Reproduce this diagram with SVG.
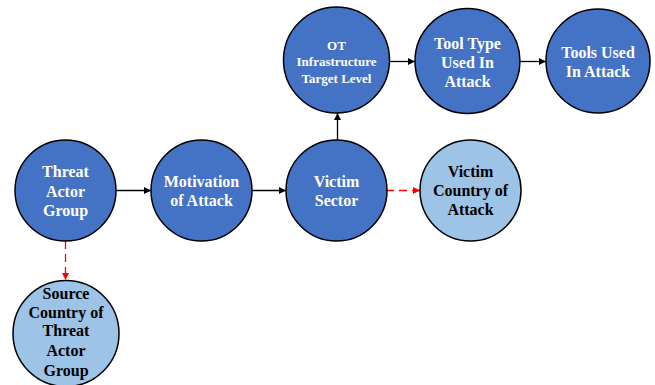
<svg xmlns="http://www.w3.org/2000/svg" width="655" height="385" viewBox="0 0 655 385">
<style>
.n circle{stroke:#000;stroke-width:1.5}
.d circle{fill:#4472C4}
.l circle{fill:#9DC3E6}
text{font-family:"Liberation Serif","Times New Roman",serif;font-weight:bold;font-size:16px;text-anchor:middle}
.d text{fill:#fff}
.l text{fill:#000}
.s text{font-size:13px}
.e{stroke:#000;stroke-width:1.3;fill:none}
.r{stroke:#f00;stroke-width:1.3;fill:none;stroke-dasharray:8,5}
</style>
<defs>
<marker id="ab" markerWidth="8" markerHeight="8" refX="7" refY="4" orient="auto" markerUnits="userSpaceOnUse"><path d="M0,0.5 L7,4 L0,7.5 Z" fill="#000"/></marker>
<marker id="ar" markerWidth="8" markerHeight="8" refX="7" refY="4" orient="auto" markerUnits="userSpaceOnUse"><path d="M0,0.5 L7,4 L0,7.5 Z" fill="#f00"/></marker>
</defs>
<rect width="655" height="385" fill="#fff"/>
<g id="connectors">
<line class="e" x1="116" y1="190.5" x2="151" y2="190.5" marker-end="url(#ab)"/>
<line class="e" x1="252" y1="190.5" x2="286" y2="190.5" marker-end="url(#ab)"/>
<line class="e" x1="337.5" y1="140" x2="337.5" y2="113" marker-end="url(#ab)"/>
<line class="e" x1="389" y1="61.5" x2="415" y2="61.5" marker-end="url(#ab)"/>
<line class="e" x1="520" y1="61.5" x2="546" y2="61.5" marker-end="url(#ab)"/>
<line class="r" x1="386" y1="190.5" x2="420" y2="190.5" marker-end="url(#ar)"/>
<line class="r" x1="65.5" y1="241" x2="65.5" y2="280" marker-end="url(#ar)"/>
</g>
<g id="threat" class="n d"><circle cx="65.5" cy="190.5" r="50.5"/><text x="65.5" y="177">Threat</text><text x="65.5" y="196.5">Actor</text><text x="65.5" y="215.5">Group</text></g>
<g id="motivation" class="n d"><circle cx="201.5" cy="190.5" r="50.5"/><text x="201.5" y="187">Motivation</text><text x="201.5" y="206">of Attack</text></g>
<g id="sector" class="n d"><circle cx="336.5" cy="190.5" r="50.5"/><text x="336.5" y="187">Victim</text><text x="336.5" y="206">Sector</text></g>
<g id="country" class="n l"><circle cx="470.5" cy="190.5" r="50.5"/><text x="470.5" y="177">Victim</text><text x="470.5" y="196">Country of</text><text x="470.5" y="215">Attack</text></g>
<g id="ot" class="n d s"><circle cx="336.5" cy="60" r="53"/><text x="336.5" y="49.5">OT</text><text x="336.5" y="66">Infrastructure</text><text x="336.5" y="82.5">Target Level</text></g>
<g id="tooltype" class="n d"><circle cx="467.5" cy="61" r="52.5"/><text x="467.5" y="48.5">Tool Type</text><text x="467.5" y="67.5">Used In</text><text x="467.5" y="86.5">Attack</text></g>
<g id="tools" class="n d"><circle cx="598" cy="61" r="52"/><text x="598" y="57.5">Tools Used</text><text x="598" y="76.5">In Attack</text></g>
<g id="source" class="n l"><circle cx="66" cy="333.5" r="53"/><text x="66" y="298.5">Source</text><text x="66" y="317.5">Country of</text><text x="66" y="336">Threat</text><text x="66" y="356">Actor</text><text x="66" y="375.5">Group</text></g>
</svg>
